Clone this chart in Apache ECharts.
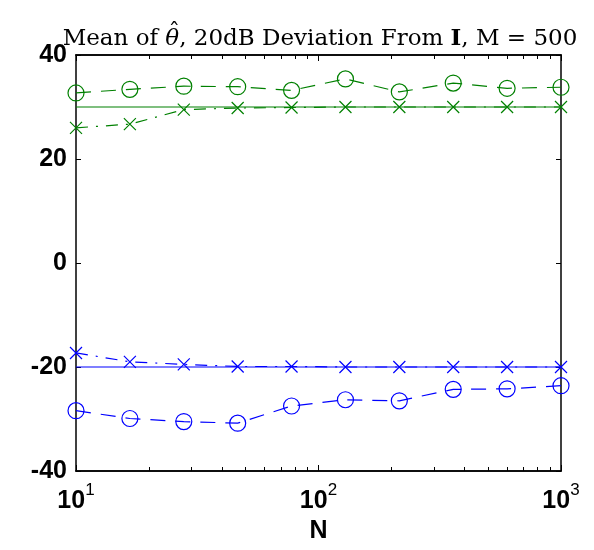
<!DOCTYPE html>
<html>
<head>
<meta charset="utf-8">
<script src="https://cdn.jsdelivr.net/npm/echarts@6/dist/echarts.min.js"></script>
<style>html,body{margin:0;padding:0;background:#fff;}#c{width:594px;height:550px;}</style>
</head>
<body>
<div id="c"></div>
<script>
const N = [10, 16.68, 27.83, 46.42, 77.43, 129.15, 215.44, 359.38, 599.48, 1000];
const greenTrue   = [30, 30, 30, 30, 30, 30, 30, 30, 30, 30];
const greenCross  = [26.0, 26.7, 29.5, 29.8, 29.9, 30.0, 30.0, 30.0, 30.0, 30.0];
const greenCircle = [32.7, 33.4, 34.0, 33.9, 33.2, 35.4, 32.9, 34.6, 33.6, 33.8];
const blueTrue    = [-20, -20, -20, -20, -20, -20, -20, -20, -20, -20];
const blueCross   = [-17.3, -19.0, -19.5, -19.9, -19.9, -20.0, -20.0, -20.0, -20.0, -20.0];
const blueCircle  = [-28.4, -29.9, -30.5, -30.8, -27.5, -26.3, -26.5, -24.3, -24.2, -23.6];
const xMajorTicks = [10, 100, 1000];
const xMinorTicks = [20, 30, 40, 50, 60, 70, 80, 90, 200, 300, 400, 500, 600, 700, 800, 900];
const yTicks = [-40, -20, 0, 20, 40];
const titleParts = [
  { t: 'Mean of ', f: 'normal normal 23px "DejaVu Serif"' },
  { t: 'θ', f: 'italic normal 23px "DejaVu Serif"', hat: true },
  { t: ', 20dB Deviation From ', f: 'normal normal 23px "DejaVu Serif"' },
  { t: 'I', f: 'normal bold 23px "DejaVu Serif"' },
  { t: ', M = 500', f: 'normal normal 23px "DejaVu Serif"' }
];

const GREEN = '#008000', BLUE = '#0000ff';
const pairs = ys => N.map((x, i) => [x, ys[i]]);
const XSYM = 'path://M0,0L10,10M10,0L0,10';

function trueLine(ys, c) {
  return { type: 'line', data: pairs(ys), symbol: 'none', lineStyle: { color: c, width: 1.2 }, z: 3, animation: false };
}
function crossLine(ys, c) {
  return { type: 'line', data: pairs(ys), symbol: XSYM, symbolSize: 12, showAllSymbol: true,
    itemStyle: { color: 'transparent', borderColor: c, borderWidth: 1.2 },
    lineStyle: { color: c, width: 1.2, type: [12, 8, 2, 8] }, z: 4, animation: false };
}
function circleLine(ys, c) {
  return { type: 'line', data: pairs(ys), symbol: 'circle', symbolSize: 16, showAllSymbol: true,
    itemStyle: { color: 'transparent', borderColor: c, borderWidth: 1.2 },
    lineStyle: { color: c, width: 1.2, type: [15, 10] }, z: 4, animation: false };
}

const axisLine = { show: true, onZero: false, lineStyle: { color: '#000', width: 1.5 } };
function xAx(pos, ticks, len, labels) {
  return {
    type: 'log', logBase: 10, min: 10, max: 1000, position: pos,
    axisLine: axisLine,
    axisTick: { show: true, inside: true, length: len, customValues: ticks, lineStyle: { color: '#000', width: 1 } },
    axisLabel: labels ? {
      show: true, customValues: xMajorTicks, margin: 11,
      formatter: v => '{b|10}{s|' + Math.round(Math.log10(v)) + '}',
      rich: {
        b: { fontFamily: 'Liberation Sans', fontWeight: 'bold', fontSize: 25, color: '#000', verticalAlign: 'bottom', lineHeight: 32 },
        s: { fontFamily: 'Liberation Sans', fontSize: 17, color: '#000', verticalAlign: 'top', lineHeight: 32 }
      }
    } : { show: false },
    splitLine: { show: false },
    name: labels ? 'N' : '', nameLocation: 'middle', nameGap: 48,
    nameTextStyle: { fontFamily: 'Liberation Sans', fontWeight: 'bold', fontSize: 25, color: '#000' }
  };
}
function yAx(pos, labels) {
  return {
    type: 'value', min: -40, max: 40, interval: 20, position: pos,
    axisLine: axisLine,
    axisTick: { show: true, inside: true, length: 5, customValues: yTicks, lineStyle: { color: '#000', width: 1 } },
    axisLabel: labels ? { show: true, customValues: yTicks, margin: 9, fontFamily: 'Liberation Sans', fontWeight: 'bold', fontSize: 25, color: '#000' } : { show: false },
    splitLine: { show: false }
  };
}

// title built from measured text pieces (so the hat can sit over theta)
const ctx = document.createElement('canvas').getContext('2d');
const widths = titleParts.map(p => { ctx.font = p.f; return ctx.measureText(p.t).width; });
const totalW = widths.reduce((a, b) => a + b, 0);
const titleCenter = 320, baseY = 28;
let cx = titleCenter - totalW / 2;
const titleEls = [];
titleParts.forEach((p, i) => {
  titleEls.push({ type: 'text', x: cx, y: baseY, style: { text: p.t, font: p.f, fill: '#000', align: 'left', verticalAlign: 'alphabetic' } });
  if (p.hat) {
    titleEls.push({ type: 'text', x: cx + widths[i] / 2 + 2, y: baseY - 6, style: { text: 'ˆ', font: 'normal normal 23px "DejaVu Serif"', fill: '#000', align: 'center', verticalAlign: 'alphabetic' } });
  }
  cx += widths[i];
});

const chart = echarts.init(document.getElementById('c'), null, { renderer: 'canvas' });
chart.setOption({
  backgroundColor: '#fff',
  animation: false,
  graphic: titleEls,
  grid: { left: 76, right: 33, top: 55, bottom: 79, containLabel: false },
  xAxis: [
    xAx('bottom', xMajorTicks, 6, true),
    xAx('bottom', xMinorTicks, 4, false),
    xAx('top', xMajorTicks, 6, false),
    xAx('top', xMinorTicks, 4, false)
  ],
  yAxis: [yAx('left', true), yAx('right', false)],
  series: [
    trueLine(greenTrue, GREEN),
    crossLine(greenCross, GREEN),
    circleLine(greenCircle, GREEN),
    trueLine(blueTrue, BLUE),
    crossLine(blueCross, BLUE),
    circleLine(blueCircle, BLUE)
  ]
});
</script>
</body>
</html>
